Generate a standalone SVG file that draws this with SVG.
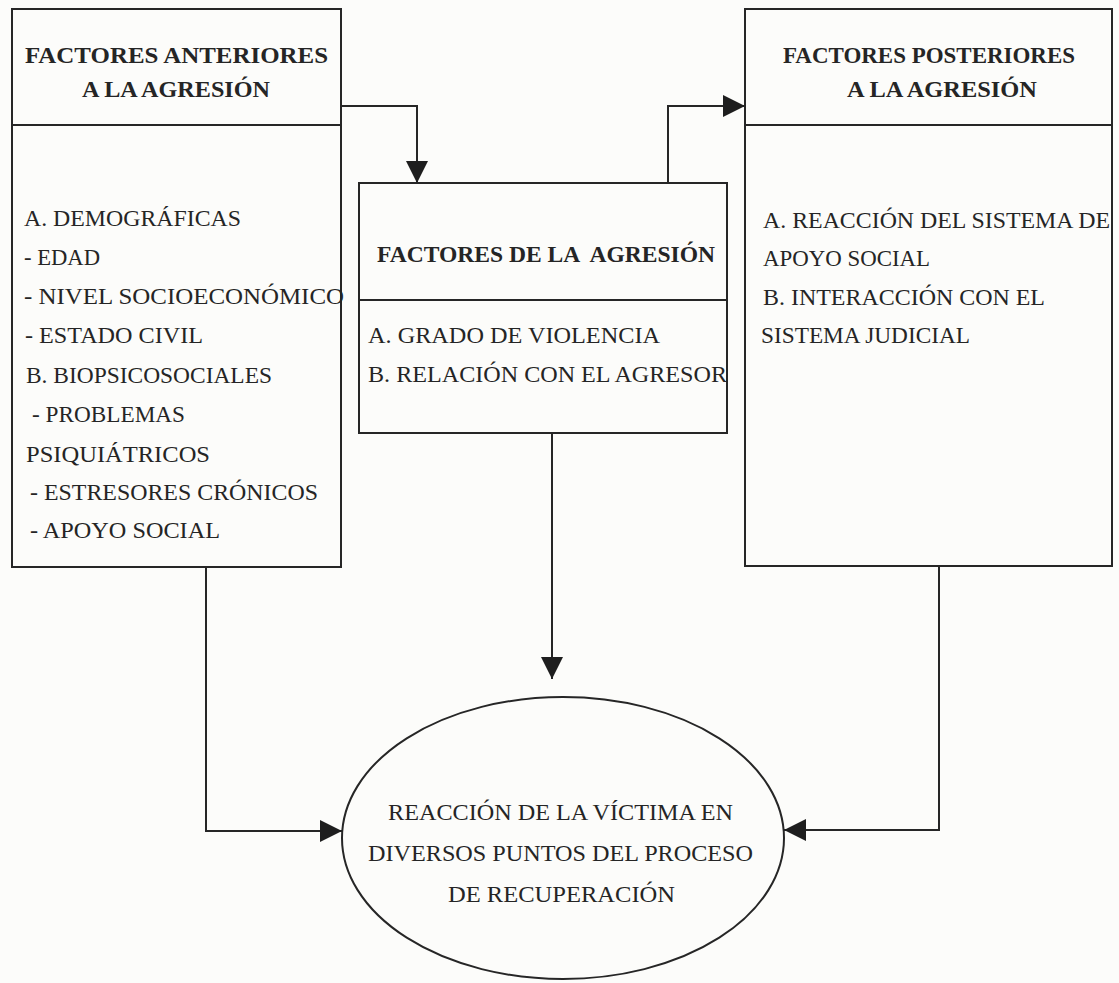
<svg xmlns="http://www.w3.org/2000/svg" width="1119" height="983" viewBox="0 0 1119 983">
<defs>
<style>
.box{fill:none;stroke:#262626;stroke-width:2}
.ln{fill:none;stroke:#262626;stroke-width:2}
.t{font-family:"Liberation Serif","Times New Roman",serif;font-size:23px;fill:#252525}
.h{font-family:"Liberation Serif","Times New Roman",serif;font-size:24px;font-weight:bold;fill:#252525}
</style>
<marker id="ah" viewBox="0 0 22 22" refX="22" refY="11" markerWidth="22" markerHeight="22" markerUnits="userSpaceOnUse" orient="auto">
<path d="M0,0 L22,11 L0,22 Z" fill="#1e1e1e"/>
</marker>
</defs>
<rect x="0" y="0" width="1119" height="983" fill="#fcfcfa"/>

<g id="connectors">
<polyline class="ln" points="341,106 417,106 417,183" marker-end="url(#ah)"/>
<polyline class="ln" points="668,183 668,106 745,106" marker-end="url(#ah)"/>
<polyline class="ln" points="552,433 552,679" marker-end="url(#ah)"/>
<polyline class="ln" points="206,567 206,831 342,831" marker-end="url(#ah)"/>
<polyline class="ln" points="939,566 939,830 784,830" marker-end="url(#ah)"/>
</g>

<g id="node-anteriores">
<rect class="box" x="12" y="9" width="329" height="558"/>
<line class="ln" x1="12" y1="125" x2="341" y2="125"/>
<text class="h" x="25" y="63" textLength="303" lengthAdjust="spacingAndGlyphs">FACTORES ANTERIORES</text>
<text class="h" x="82" y="97" textLength="188" lengthAdjust="spacingAndGlyphs">A LA AGRESIÓN</text>
<text class="t" x="24" y="226" textLength="217" lengthAdjust="spacingAndGlyphs">A. DEMOGRÁFICAS</text>
<text class="t" x="24" y="265" textLength="76" lengthAdjust="spacingAndGlyphs">- EDAD</text>
<text class="t" x="24" y="304" textLength="320" lengthAdjust="spacingAndGlyphs">- NIVEL SOCIOECONÓMICO</text>
<text class="t" x="25" y="343" textLength="178" lengthAdjust="spacingAndGlyphs">- ESTADO CIVIL</text>
<text class="t" x="26" y="383" textLength="246" lengthAdjust="spacingAndGlyphs">B. BIOPSICOSOCIALES</text>
<text class="t" x="32" y="422" textLength="153" lengthAdjust="spacingAndGlyphs">- PROBLEMAS</text>
<text class="t" x="26" y="462" textLength="184" lengthAdjust="spacingAndGlyphs">PSIQUIÁTRICOS</text>
<text class="t" x="30" y="500" textLength="288" lengthAdjust="spacingAndGlyphs">- ESTRESORES CRÓNICOS</text>
<text class="t" x="30" y="538" textLength="190" lengthAdjust="spacingAndGlyphs">- APOYO SOCIAL</text>
</g>

<g id="node-agresion">
<rect class="box" x="359" y="183" width="368" height="250"/>
<line class="ln" x1="359" y1="300" x2="727" y2="300"/>
<text class="h" x="377" y="262" textLength="338" lengthAdjust="spacingAndGlyphs" xml:space="preserve">FACTORES DE LA  AGRESIÓN</text>
<text class="t" x="368" y="343" textLength="292" lengthAdjust="spacingAndGlyphs">A. GRADO DE VIOLENCIA</text>
<text class="t" x="368" y="382" textLength="359" lengthAdjust="spacingAndGlyphs">B. RELACIÓN CON EL AGRESOR</text>
</g>

<g id="node-posteriores">
<rect class="box" x="745" y="9" width="367" height="557"/>
<line class="ln" x1="745" y1="125" x2="1112" y2="125"/>
<text class="h" x="783" y="63" textLength="292" lengthAdjust="spacingAndGlyphs">FACTORES POSTERIORES</text>
<text class="h" x="847" y="97" textLength="190" lengthAdjust="spacingAndGlyphs">A LA AGRESIÓN</text>
<text class="t" x="763" y="228" textLength="347" lengthAdjust="spacingAndGlyphs">A. REACCIÓN DEL SISTEMA DE</text>
<text class="t" x="763" y="266" textLength="167" lengthAdjust="spacingAndGlyphs">APOYO SOCIAL</text>
<text class="t" x="763" y="305" textLength="282" lengthAdjust="spacingAndGlyphs">B. INTERACCIÓN CON EL</text>
<text class="t" x="761" y="343" textLength="209" lengthAdjust="spacingAndGlyphs">SISTEMA JUDICIAL</text>
</g>

<g id="node-reaccion">
<ellipse class="box" cx="563" cy="838" rx="221" ry="141"/>
<text class="t" x="388" y="820" textLength="345" lengthAdjust="spacingAndGlyphs">REACCIÓN DE LA VÍCTIMA EN</text>
<text class="t" x="368" y="861" textLength="385" lengthAdjust="spacingAndGlyphs">DIVERSOS PUNTOS DEL PROCESO</text>
<text class="t" x="448" y="902" textLength="227" lengthAdjust="spacingAndGlyphs">DE RECUPERACIÓN</text>
</g>
</svg>
